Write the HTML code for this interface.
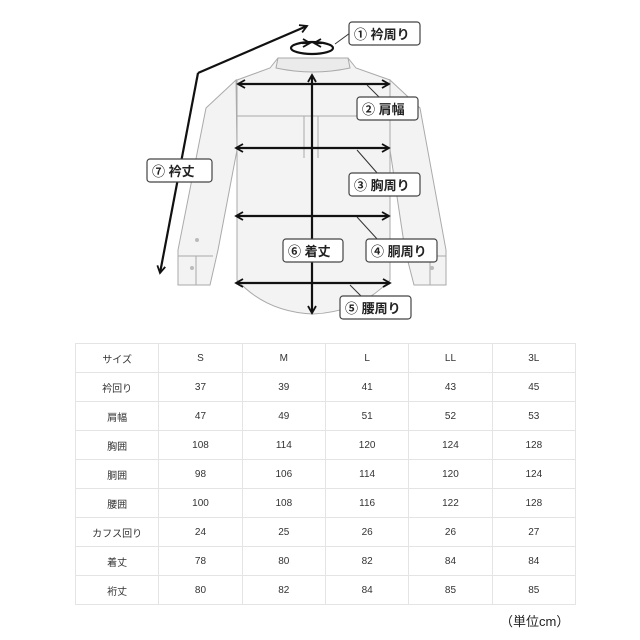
<!DOCTYPE html>
<html><head><meta charset="utf-8"><style>
body{margin:0;background:#fff;width:640px;height:640px;overflow:hidden;position:relative;font-family:"Liberation Sans","Noto Sans CJK JP",sans-serif}
table{position:absolute;left:75px;top:343px;width:501px;border-collapse:collapse;border:1.5px solid #bbb;table-layout:fixed}
td{border:1px solid #e4e4e4;height:28px;text-align:center;font-size:10px;color:#333;padding:0}
.u{position:absolute;left:500px;top:611px;font-size:13px;color:#222}
</style></head><body>
<svg width="640" height="340" style="position:absolute;left:0;top:0" font-family="Liberation Sans, Noto Sans CJK JP, sans-serif">
<defs><marker id="a" markerWidth="10" markerHeight="10" refX="8" refY="5" orient="auto" markerUnits="userSpaceOnUse"><path d="M1,1 L8,5 L1,9" fill="none" stroke="#111" stroke-width="1.8"/></marker></defs>
<g fill="#f3f3f3" stroke="#aaa" stroke-width="1">
<path d="M236,80 L206,108 L178,250 L178,285 L210,285 L218,250 L237,150 Z"/>
<path d="M390,80 L420,108 L446,250 L446,285 L414,285 L405,250 L390,150 Z"/>
<path d="M278,58 L348,58 L356,68 L390,80 L390,280 Q360,312 313,314 Q266,312 237,280 L237,80 L270,68 Z"/>
<path d="M278,58 L348,58 L350,68 Q313,76 276,68 Z" fill="#ebebeb"/>
<line x1="237" y1="116" x2="390" y2="116"/>
<line x1="304" y1="116" x2="304" y2="158"/><line x1="318" y1="116" x2="318" y2="158"/>
<line x1="178" y1="256" x2="213" y2="256"/><line x1="412" y1="256" x2="446" y2="256"/>
<line x1="196" y1="256" x2="196" y2="285"/><line x1="430" y1="256" x2="430" y2="285"/>
</g>
<circle cx="197" cy="240" r="2" fill="#bbb"/><circle cx="192" cy="268" r="2" fill="#bbb"/><circle cx="432" cy="268" r="2" fill="#bbb"/>
<g stroke="#111" stroke-width="2.2" fill="none">
<ellipse cx="312" cy="48" rx="21" ry="6"/>
<line x1="302" y1="43" x2="310" y2="43" marker-end="url(#a)"/><line x1="322" y1="43" x2="314" y2="43" marker-end="url(#a)"/>
<line x1="300" y1="84" x2="238" y2="84" marker-end="url(#a)"/><line x1="300" y1="84" x2="389" y2="84" marker-end="url(#a)"/>
<line x1="300" y1="148" x2="236" y2="148" marker-end="url(#a)"/><line x1="300" y1="148" x2="389" y2="148" marker-end="url(#a)"/>
<line x1="300" y1="216" x2="236" y2="216" marker-end="url(#a)"/><line x1="300" y1="216" x2="389" y2="216" marker-end="url(#a)"/>
<line x1="300" y1="283" x2="236" y2="283" marker-end="url(#a)"/><line x1="300" y1="283" x2="390" y2="283" marker-end="url(#a)"/>
<line x1="312" y1="200" x2="312" y2="75" marker-end="url(#a)"/><line x1="312" y1="200" x2="312" y2="313" marker-end="url(#a)"/>
<path d="M198,73 L160,273" marker-end="url(#a)"/><path d="M198,73 L307,26" marker-end="url(#a)"/>
</g>
<g stroke="#333" stroke-width="1" fill="none">
<line x1="335" y1="44" x2="350" y2="33"/><line x1="367" y1="85" x2="380" y2="98"/>
<line x1="357" y1="150" x2="378" y2="174"/><line x1="357" y1="217" x2="378" y2="240"/><line x1="350" y1="285" x2="362" y2="297"/>
</g>
<g stroke="#444" stroke-width="1.2" fill="#fff">
<rect x="349" y="22" width="71" height="23" rx="3"/><rect x="357" y="97" width="61" height="23" rx="3"/>
<rect x="349" y="173" width="71" height="23" rx="3"/><rect x="366" y="239" width="71" height="23" rx="3"/>
<rect x="340" y="296" width="71" height="23" rx="3"/><rect x="283" y="239" width="60" height="23" rx="3"/>
<rect x="147" y="159" width="65" height="23" rx="3"/>
</g>
<g font-size="13" font-weight="bold" fill="#222">
<text x="354" y="39">① 衿周り</text><text x="362" y="114">② 肩幅</text>
<text x="354" y="190">③ 胸周り</text><text x="371" y="256">④ 胴周り</text>
<text x="345" y="313">⑤ 腰周り</text><text x="288" y="256">⑥ 着丈</text>
<text x="152" y="176">⑦ 衿丈</text>
</g>
</svg>
<table>
<tr><td>サイズ</td><td>S</td><td>M</td><td>L</td><td>LL</td><td>3L</td></tr>
<tr><td>衿回り</td><td>37</td><td>39</td><td>41</td><td>43</td><td>45</td></tr>
<tr><td>肩幅</td><td>47</td><td>49</td><td>51</td><td>52</td><td>53</td></tr>
<tr><td>胸囲</td><td>108</td><td>114</td><td>120</td><td>124</td><td>128</td></tr>
<tr><td>胴囲</td><td>98</td><td>106</td><td>114</td><td>120</td><td>124</td></tr>
<tr><td>腰囲</td><td>100</td><td>108</td><td>116</td><td>122</td><td>128</td></tr>
<tr><td>カフス回り</td><td>24</td><td>25</td><td>26</td><td>26</td><td>27</td></tr>
<tr><td>着丈</td><td>78</td><td>80</td><td>82</td><td>84</td><td>84</td></tr>
<tr><td>裄丈</td><td>80</td><td>82</td><td>84</td><td>85</td><td>85</td></tr>
</table>
<div class="u">（単位cm）</div>
</body></html>
